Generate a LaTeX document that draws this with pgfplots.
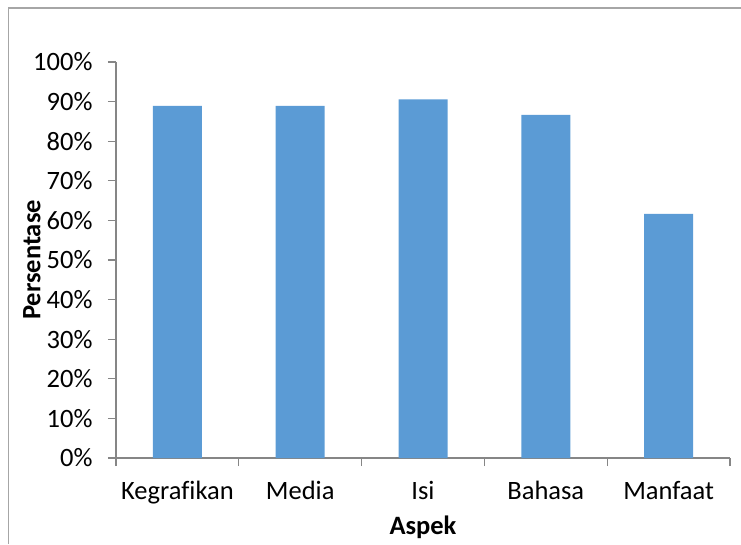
\documentclass[border=0pt]{standalone}
\usepackage{pgfplots}
\pgfplotsset{compat=1.18}
\usepackage{fontspec}
\setmainfont[Ligatures=NoCommon]{Carlito}
\definecolor{barblue}{HTML}{5B9BD5}
\definecolor{axisgray}{HTML}{868686}
\definecolor{framegray}{HTML}{A6A6A6}
\newcommand{\chartfont}{\fontsize{26.5}{31}\selectfont}
\begin{document}
\begin{tikzpicture}[x=1pt,y=1pt]
\path[use as bounding box] (0,0) rectangle (741,544);
\draw[framegray, line width=1.5pt] (8.5,0) -- (8.5,536) -- (741,536);
\begin{axis}[
  at={(116pt,86pt)}, anchor=south west,
  scale only axis, width=614pt, height=396pt,
  xmin=-0.5, xmax=4.5, ymin=0, ymax=100,
  axis x line=bottom, axis y line=left,
  axis line style={-, draw=axisgray, line width=1.2pt},
  tick align=outside, major tick length=8pt, minor tick length=8pt,
  xtick={0,1,2,3,4},
  xticklabels={Kegrafikan,Media,Isi,Bahasa,Manfaat},
  minor xtick={-0.5,0.5,1.5,2.5,3.5,4.5},
  major x tick style={draw=none},
  minor x tick style={draw=axisgray, line width=1.2pt},
  ytick={0,10,...,100},
  yticklabels={0\%,10\%,20\%,30\%,40\%,50\%,60\%,70\%,80\%,90\%,100\%},
  y tick style={draw=axisgray, line width=1.2pt},
  tick label style={font=\chartfont, text=black},
  xticklabel style={yshift=-12pt},
  yticklabel style={xshift=-12pt},
  every axis y label/.style={at={(axis description cs:-0.137,0.5)}, rotate=90, anchor=center},
  every axis x label/.style={at={(axis description cs:0.5,-0.174)}, anchor=center},
  label style={font=\chartfont\bfseries},
  ylabel={Persentase}, xlabel={Aspek},
]
\addplot[ybar, fill=barblue, draw=none, bar width=49pt]
  coordinates {(0,88.89) (1,88.89) (2,90.56) (3,86.67) (4,61.67)};
\end{axis}
\end{tikzpicture}
\end{document}
